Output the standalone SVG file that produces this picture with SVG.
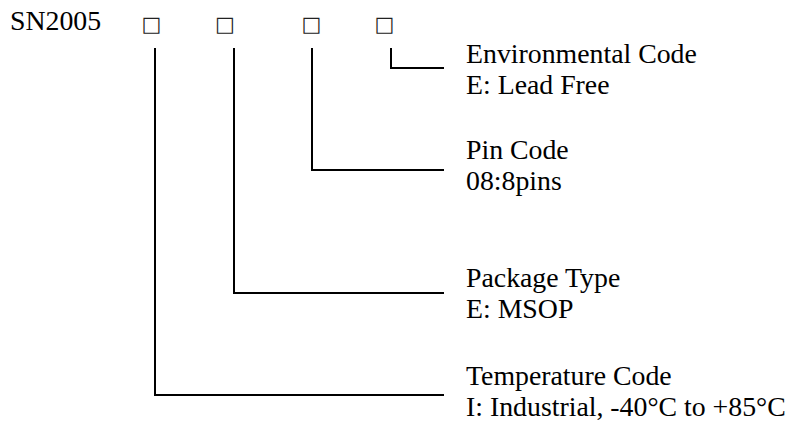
<svg xmlns="http://www.w3.org/2000/svg" width="792" height="425" viewBox="0 0 792 425">
<style>
.t{font-family:"Liberation Serif","Times New Roman",serif;font-size:27.8px;fill:#000}
.sq{font-family:"DejaVu Sans",sans-serif;font-size:21px;fill:#222;text-anchor:middle}
.c{fill:none;stroke:#000;stroke-width:2}
</style>
<rect width="792" height="425" fill="#fff"/>
<g id="part">
<text class="t" x="10" y="30">SN2005</text>
<text class="sq" x="151.5" y="31">□</text>
<text class="sq" x="225" y="31">□</text>
<text class="sq" x="311.5" y="31">□</text>
<text class="sq" x="384.5" y="31">□</text>
</g>
<g id="connectors">
<polyline class="c" points="391,48 391,68 444,68"/>
<polyline class="c" points="312,48 312,170 444,170"/>
<polyline class="c" points="234,48 234,293 444,293"/>
<polyline class="c" points="155,48 155,395 444,395"/>
</g>
<g id="env">
<text class="t" x="466" y="63">Environmental Code</text>
<text class="t" x="466" y="94">E: Lead Free</text>
</g>
<g id="pin">
<text class="t" x="466" y="159">Pin Code</text>
<text class="t" x="466" y="190">08:8pins</text>
</g>
<g id="package">
<text class="t" x="466" y="287">Package Type</text>
<text class="t" x="466" y="318">E: MSOP</text>
</g>
<g id="temp">
<text class="t" x="466" y="385">Temperature Code</text>
<text class="t" x="466" y="416">I: Industrial, -40°C to +85°C</text>
</g>
</svg>
